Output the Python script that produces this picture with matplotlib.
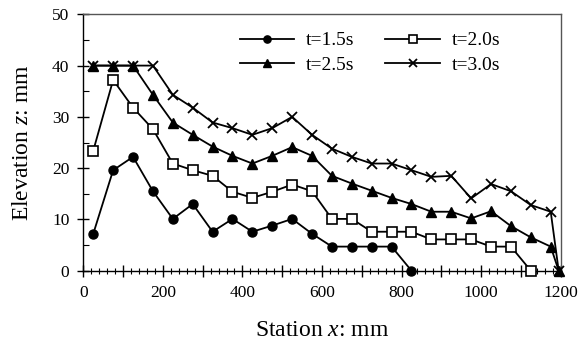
import numpy as np
import matplotlib
matplotlib.use("Agg")
import matplotlib.pyplot as plt
from matplotlib.ticker import MultipleLocator

plt.rcParams['font.family'] = ['Liberation Serif', 'DejaVu Serif']
plt.rcParams['mathtext.fontset'] = 'custom'
plt.rcParams['mathtext.it'] = 'Liberation Serif:italic'
plt.rcParams['mathtext.rm'] = 'Liberation Serif'

x15 = [25, 75, 125, 175, 225, 275, 325, 375, 425, 475, 525, 575, 625, 675, 725, 775, 825]
z15 = [7.2, 19.6, 22.2, 15.5, 10.1, 13.0, 7.6, 10.1, 7.6, 8.8, 10.1, 7.2, 4.7, 4.7, 4.7, 4.7, 0]

x20 = [25, 75, 125, 175, 225, 275, 325, 375, 425, 475, 525, 575, 625, 675, 725, 775, 825,
       875, 925, 975, 1025, 1075, 1125]
z20 = [23.4, 37.2, 31.8, 27.6, 20.9, 19.6, 18.5, 15.4, 14.2, 15.4, 16.8, 15.5, 10.1, 10.1,
       7.6, 7.6, 7.6, 6.1, 6.1, 6.1, 4.7, 4.7, 0]

x25 = [25, 75, 125, 175, 225, 275, 325, 375, 425, 475, 525, 575, 625, 675, 725, 775, 825,
       875, 925, 975, 1025, 1075, 1125, 1175, 1195]
z25 = [40, 40, 40, 34.3, 28.9, 26.5, 24.2, 22.4, 20.9, 22.4, 24.1, 22.4, 18.5, 17.0, 15.6,
       14.2, 13.0, 11.5, 11.5, 10.2, 11.6, 8.7, 6.5, 4.7, 0]

x30 = [25, 75, 125, 175, 225, 275, 325, 375, 425, 475, 525, 575, 625, 675, 725, 775, 825,
       875, 925, 975, 1025, 1075, 1125, 1175, 1195]
z30 = [40, 40, 40, 40, 34.3, 31.8, 28.9, 27.8, 26.5, 27.8, 30.0, 26.5, 23.8, 22.2, 20.9,
       20.9, 19.6, 18.3, 18.5, 14.1, 16.9, 15.5, 12.8, 11.5, 0]

labels = ['t=1.5s', 't=2.0s', 't=2.5s', 't=3.0s']

fig = plt.figure(figsize=(5.81, 3.56), dpi=100)
ax = fig.add_axes([0.1434, 0.2396, 0.965 - 0.1434, 0.9598 - 0.2396])

lw = 1.3
h15, = ax.plot(x15, z15, '-', color='black', lw=lw, marker='o', ms=6.5, mfc='black', mec='black',
               label=labels[0], clip_on=False, zorder=3)
h20, = ax.plot(x20, z20, '-', color='black', lw=lw, marker='s', ms=6.5, mfc='white', mec='black',
               mew=1.2, label=labels[1], clip_on=False, zorder=3)
h25, = ax.plot(x25, z25, '-', color='black', lw=lw, marker='^', ms=7, mfc='black', mec='black',
               label=labels[2], clip_on=False, zorder=3)
h30, = ax.plot(x30, z30, '-', color='black', lw=lw, marker='x', ms=7, mec='black', mew=1.3,
               label=labels[3], clip_on=False, zorder=3)

ax.set_xlim(0, 1200)
ax.set_ylim(0, 50)
ax.set_xticks(range(0, 1201, 100))
ax.set_xticklabels([str(v) if v % 200 == 0 else '' for v in range(0, 1201, 100)])
ax.xaxis.set_minor_locator(MultipleLocator(20))
ax.yaxis.set_major_locator(MultipleLocator(10))
ax.yaxis.set_minor_locator(MultipleLocator(5))

ax.tick_params(axis='both', which='major', direction='inout', length=8, width=1, labelsize=12.5, colors='black')
ax.tick_params(axis='x', which='minor', direction='inout', length=4, width=0.8)
ax.tick_params(axis='y', which='minor', direction='in', length=4, width=0.8)
ax.tick_params(axis='x', pad=6)
ax.tick_params(axis='y', pad=6)
for s in ax.spines.values():
    s.set_linewidth(1.0)
    s.set_color('#555555')
ax.spines['left'].set_color('black')
ax.spines['bottom'].set_color('black')

ax.set_xlabel('Station $x$: mm', fontsize=17, labelpad=14)
ax.set_ylabel('Elevation $z$: mm', fontsize=17, labelpad=14)

ax.legend([h15, h25, h20, h30], [labels[0], labels[2], labels[1], labels[3]],
          ncol=2, frameon=False, loc='upper right', bbox_to_anchor=(0.91, 1.0),
          fontsize=14, handlelength=2.8, columnspacing=1.6, labelspacing=0.35,
          handletextpad=0.6, markerscale=0.8)

fig.savefig('out.png', dpi=100)
